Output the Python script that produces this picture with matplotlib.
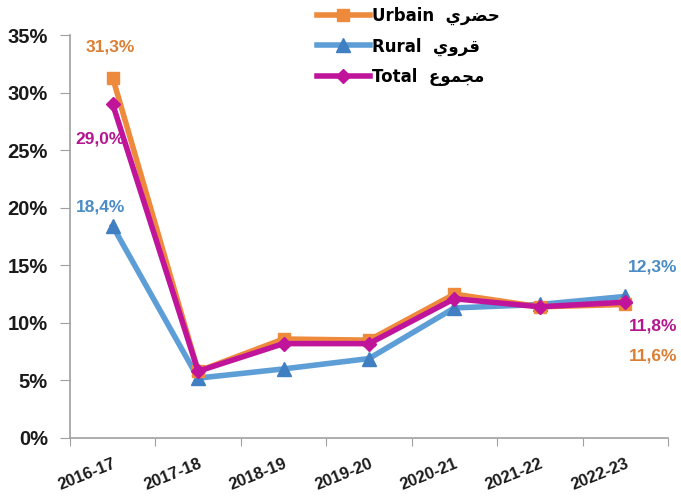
import matplotlib
matplotlib.use("Agg")
import matplotlib.pyplot as plt
from matplotlib.ticker import FixedLocator, PercentFormatter

years = ["2016-17", "2017-18", "2018-19", "2019-20", "2020-21", "2021-22", "2022-23"]
urbain = [31.3, 5.8, 8.6, 8.5, 12.5, 11.4, 11.6]
rural = [18.4, 5.2, 6.0, 6.9, 11.3, 11.6, 12.3]
total = [29.0, 5.8, 8.2, 8.2, 12.1, 11.4, 11.8]

# Arabic names written in presentation forms, visual order
ar_urbain = "\uFEF1\uFEAE\uFEC0\uFEA3"
ar_rural = "\uFEF1\uFEED\uFEAE\uFED7"
ar_total = "\uFEC9\uFEEE\uFEE4\uFEA0\uFEE3"

plt.rcParams["font.family"] = ["Liberation Sans", "DejaVu Sans"]
plt.rcParams["font.weight"] = "bold"

c_urb = "#EE8A3C"
c_rur = "#5E9ED6"
c_rur_m = "#3F7FC2"
c_tot = "#C0159B"

fig = plt.figure(figsize=(6.81, 4.96), dpi=100)
ax = fig.add_axes([0.1028, 0.117, 0.878, 0.812])

x = list(range(len(years)))
l1, = ax.plot(x, urbain, color=c_urb, lw=4, marker="s", ms=9,
              mfc=c_urb, mec=c_urb, zorder=3)
l2, = ax.plot(x, rural, color=c_rur, lw=4, marker="^", ms=10,
              mfc=c_rur_m, mec=c_rur_m, zorder=2)
l3, = ax.plot(x, total, color=c_tot, lw=4, marker="D", ms=7,
              mfc=c_tot, mec=c_tot, zorder=4)

ax.set_xlim(-0.5, len(years) - 0.5)
ax.set_ylim(0, 35)
ax.yaxis.set_major_locator(FixedLocator([0, 5, 10, 15, 20, 25, 30, 35]))
ax.yaxis.set_major_formatter(PercentFormatter(decimals=0))
ax.xaxis.set_major_locator(FixedLocator([i - 0.5 for i in range(len(years) + 1)]))
ax.xaxis.set_major_formatter(plt.NullFormatter())
ax.xaxis.set_minor_locator(FixedLocator(x))
ax.set_xticklabels(years, minor=True, rotation=22, ha="right",
                   rotation_mode="anchor", fontsize=12, fontweight="bold",
                   color="#1a1a1a")
ax.tick_params(axis="x", which="minor", length=0, pad=13)
ax.tick_params(axis="x", which="major", length=6, color="#A0A0A0", direction="out")
ax.tick_params(axis="y", length=7, color="#A0A0A0", labelsize=14.5,
               labelcolor="#1a1a1a", pad=9)
for t in ax.get_yticklabels():
    t.set_fontweight("bold")

for s in ("top", "right"):
    ax.spines[s].set_visible(False)
for s in ("left", "bottom"):
    ax.spines[s].set_color("#A0A0A0")
    ax.spines[s].set_linewidth(1.2)

def fmt(v):
    return f"{v:.1f}%".replace(".", ",")

lab_kw = dict(fontsize=12.5, fontweight="bold", ha="center", va="center")
ax.annotate(fmt(urbain[0]), (0, urbain[0]), xytext=(-2, 22), textcoords="offset points",
            color="#DB7F35", **lab_kw)
ax.annotate(fmt(total[0]), (0, total[0]), xytext=(-9, -25), textcoords="offset points",
            color="#B3178F", **lab_kw)
ax.annotate(fmt(rural[0]), (0, rural[0]), xytext=(-9, 14), textcoords="offset points",
            color="#4A8CC6", **lab_kw)
last = len(years) - 1
ax.annotate(fmt(rural[last]), (last, rural[last]), xytext=(20, 21), textcoords="offset points",
            color="#4A8CC6", **lab_kw)
ax.annotate(fmt(total[last]), (last, total[last]), xytext=(20, -17), textcoords="offset points",
            color="#B3178F", **lab_kw)
ax.annotate(fmt(urbain[last]), (last, urbain[last]), xytext=(20, -37), textcoords="offset points",
            color="#DB7F35", **lab_kw)

leg = fig.legend([l1, l2, l3],
                 [f"Urbain  {ar_urbain}", f"Rural  {ar_rural}", f"Total  {ar_total}"],
                 loc="upper left", bbox_to_anchor=(0.443, 1.017), frameon=False,
                 handlelength=3.2, handletextpad=0.1, labelspacing=0.75,
                 prop={"family": ["DejaVu Sans"], "weight": "bold", "size": 12})

fig.savefig("out.png", dpi=100, facecolor="white")
